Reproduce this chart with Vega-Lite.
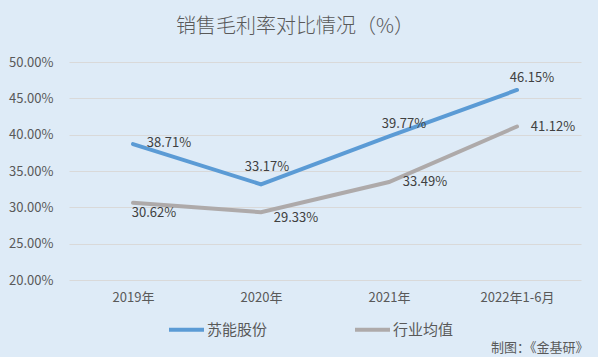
{
  "$schema": "https://vega.github.io/schema/vega-lite/v6.json",
  "autosize": "none",
  "width": 512,
  "height": 218,
  "padding": {"left": 69, "top": 62, "right": 17, "bottom": 77},
  "background": "#deebf7",
  "config": {
    "view": {"stroke": null},
    "font": "Noto Sans CJK SC",
    "text": {"font": "Noto Sans CJK SC"}
  },
  "title": {
    "text": "销售毛利率对比情况（%）",
    "fontSize": 20,
    "fontWeight": 300,
    "color": "#595959",
    "font": "Noto Sans CJK SC",
    "anchor": "middle",
    "dx": -30,
    "offset": 19
  },
  "data": {
    "values": [
      {"year": "2019年", "series": "苏能股份", "value": 38.71},
      {"year": "2020年", "series": "苏能股份", "value": 33.17},
      {"year": "2021年", "series": "苏能股份", "value": 39.77},
      {"year": "2022年1-6月", "series": "苏能股份", "value": 46.15},
      {"year": "2019年", "series": "行业均值", "value": 30.62},
      {"year": "2020年", "series": "行业均值", "value": 29.33},
      {"year": "2021年", "series": "行业均值", "value": 33.49},
      {"year": "2022年1-6月", "series": "行业均值", "value": 41.12}
    ]
  },
  "encoding": {
    "x": {
      "field": "year",
      "type": "nominal",
      "sort": ["2019年", "2020年", "2021年", "2022年1-6月"],
      "scale": {"type": "point", "padding": 0.5},
      "axis": {
        "labelAngle": 0,
        "domain": false,
        "ticks": false,
        "grid": false,
        "labelPadding": 11,
        "labelFontSize": 13,
        "labelColor": "#595959",
        "labelFont": "Noto Sans CJK SC",
        "title": "制图：《金基研》",
        "titleFontSize": 13,
        "titleFontWeight": "normal",
        "titleColor": "#595959",
        "titleFont": "Noto Sans CJK SC",
        "titleAnchor": "end",
        "titleAlign": "right",
        "titleX": 519,
        "titleY": 67,
        "titleBaseline": "middle"
      }
    },
    "y": {
      "field": "value",
      "type": "quantitative",
      "scale": {"domain": [20, 50], "nice": false, "zero": false},
      "axis": {
        "values": [20, 25, 30, 35, 40, 45, 50],
        "labelExpr": "format(datum.value, '.2f') + '%'",
        "domain": false,
        "ticks": false,
        "gridColor": "#d9d9d9",
        "gridWidth": 1,
        "labelPadding": 16,
        "labelFontSize": 13,
        "labelColor": "#595959",
        "labelFont": "Noto Sans CJK SC",
        "title": null
      }
    }
  },
  "layer": [
    {
      "mark": {"type": "line", "strokeWidth": 4, "strokeCap": "round"},
      "encoding": {
        "color": {
          "field": "series",
          "type": "nominal",
          "scale": {"domain": ["苏能股份", "行业均值"], "range": ["#5b9bd5", "#aeaaaa"]},
          "legend": {
            "orient": "none",
            "direction": "horizontal",
            "legendX": 98,
            "legendY": 248,
            "title": null,
            "symbolType": "stroke",
            "symbolSize": 1225,
            "symbolStrokeWidth": 4,
            "labelFontSize": 15,
            "labelColor": "#595959",
            "labelFont": "Noto Sans CJK SC",
            "labelOffset": 1,
            "columnPadding": 79
          }
        }
      }
    },
    {
      "transform": [{"filter": "datum.series == '苏能股份' && datum.year == '2019年'"}, {"calculate": "format(datum.value, '.2f') + '%'", "as": "label"}],
      "mark": {"type": "text", "fontSize": 13, "color": "#404040", "dx": 36, "dy": -1, "align": "center", "baseline": "middle"},
      "encoding": {"text": {"field": "label", "type": "nominal"}}
    },
    {
      "transform": [{"filter": "datum.series == '苏能股份' && datum.year == '2020年'"}, {"calculate": "format(datum.value, '.2f') + '%'", "as": "label"}],
      "mark": {"type": "text", "fontSize": 13, "color": "#404040", "dx": 6, "dy": -17, "align": "center", "baseline": "middle"},
      "encoding": {"text": {"field": "label", "type": "nominal"}}
    },
    {
      "transform": [{"filter": "datum.series == '苏能股份' && (datum.year == '2021年' || datum.year == '2022年1-6月')"}, {"calculate": "format(datum.value, '.2f') + '%'", "as": "label"}],
      "mark": {"type": "text", "fontSize": 13, "color": "#404040", "dx": 15, "dy": -12, "align": "center", "baseline": "middle"},
      "encoding": {"text": {"field": "label", "type": "nominal"}}
    },
    {
      "transform": [{"filter": "datum.series == '行业均值' && datum.year == '2019年'"}, {"calculate": "format(datum.value, '.2f') + '%'", "as": "label"}],
      "mark": {"type": "text", "fontSize": 13, "color": "#404040", "dx": 21, "dy": 10, "align": "center", "baseline": "middle"},
      "encoding": {"text": {"field": "label", "type": "nominal"}}
    },
    {
      "transform": [{"filter": "datum.series == '行业均值' && datum.year == '2020年'"}, {"calculate": "format(datum.value, '.2f') + '%'", "as": "label"}],
      "mark": {"type": "text", "fontSize": 13, "color": "#404040", "dx": 35, "dy": 6, "align": "center", "baseline": "middle"},
      "encoding": {"text": {"field": "label", "type": "nominal"}}
    },
    {
      "transform": [{"filter": "datum.series == '行业均值' && (datum.year == '2021年' || datum.year == '2022年1-6月')"}, {"calculate": "format(datum.value, '.2f') + '%'", "as": "label"}],
      "mark": {"type": "text", "fontSize": 13, "color": "#404040", "dx": 36, "dy": 0, "align": "center", "baseline": "middle"},
      "encoding": {"text": {"field": "label", "type": "nominal"}}
    }
  ]
}
